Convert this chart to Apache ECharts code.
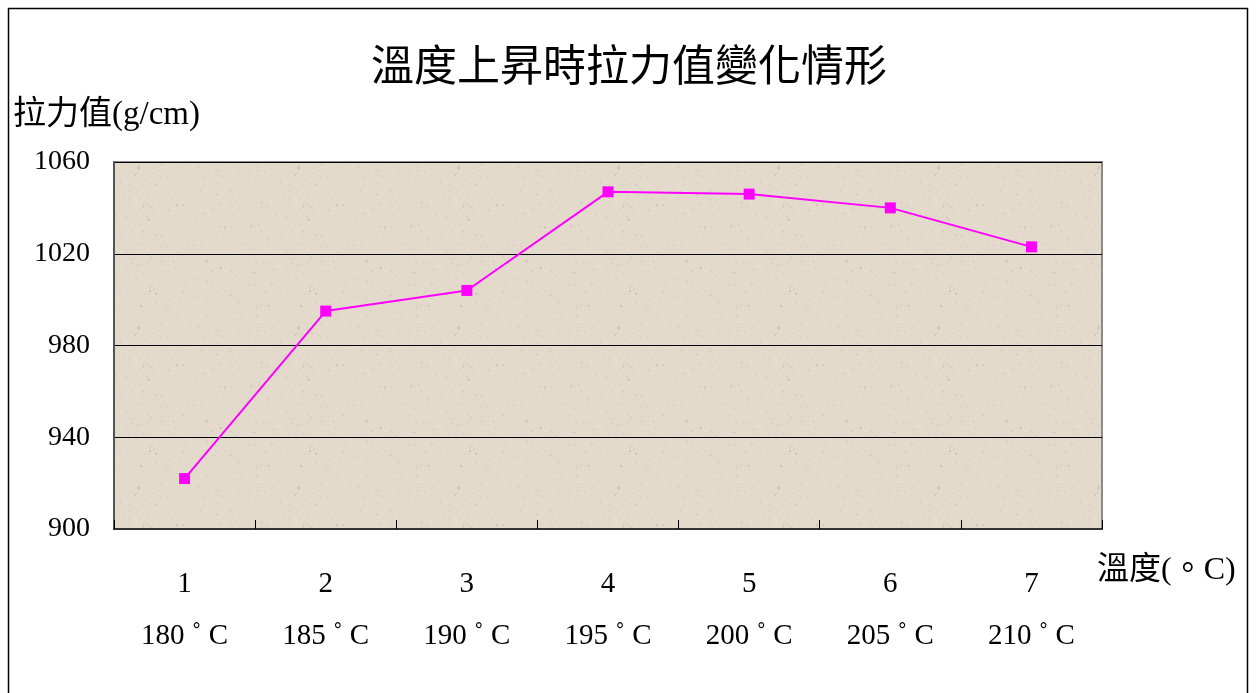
<!DOCTYPE html>
<html>
<head>
<meta charset="utf-8">
<title>溫度上昇時拉力值變化情形</title>
<script src="https://cdn.jsdelivr.net/npm/echarts@6/dist/echarts.min.js"></script>
<style>
  html, body { margin: 0; padding: 0; background: #ffffff; }
  #chart { width: 1258px; height: 693px; }
</style>
</head>
<body>
<div id="chart"></div>
<script>
// Sample index and oven temperature for each test
const sampleNo = ['1', '2', '3', '4', '5', '6', '7'];
const temperatures = ['180 ˚ C', '185 ˚ C', '190 ˚ C', '195 ˚ C', '200 ˚ C', '205 ˚ C', '210 ˚ C'];
// Measured peel strength (g/cm)
const strength = [922, 995, 1004, 1047, 1046, 1040, 1023];
// Value axis range
const yMin = 900, yMax = 1060, yStep = 40;

const serif = '"Liberation Serif", "DejaVu Serif", serif';
const cjk = '"Noto Sans CJK TC", "Noto Sans CJK SC", sans-serif';
const mixed = '"Liberation Serif", "Noto Sans CJK TC", serif';

// Speckled beige paper texture for the plotting area
function paperTexture() {
  const c = document.createElement('canvas');
  c.width = 160; c.height = 160;
  const g = c.getContext('2d');
  g.fillStyle = '#e3dacc';
  g.fillRect(0, 0, 160, 160);
  let s = 12345;
  const next = () => { s = (s * 1103515245 + 12345) & 0x7fffffff; return s / 0x7fffffff; };
  for (let i = 0; i < 900; i++) {
    const x = next() * 160, y = next() * 160;
    const v = next();
    const shade = v < 0.5 ? 'rgba(200,190,175,0.3)' : (v < 0.9 ? 'rgba(238,232,222,0.4)' : 'rgba(150,140,125,0.3)');
    g.fillStyle = shade;
    g.fillRect(x, y, 1 + (next() < 0.3 ? 1 : 0), 1 + (next() < 0.3 ? 1 : 0));
  }
  return c;
}

const chart = echarts.init(document.getElementById('chart'), null, { renderer: 'canvas' });

chart.setOption({
  backgroundColor: '#ffffff',
  animation: false,
  title: {
    text: '溫度上昇時拉力值變化情形',
    left: 'center',
    top: 38,
    textStyle: { fontFamily: cjk, fontSize: 43, fontWeight: 'normal', color: '#000' }
  },
  graphic: [
    {
      type: 'rect',
      shape: { x: 8.5, y: 8.5, width: 1239, height: 700 },
      style: { fill: 'none', stroke: '#000', lineWidth: 1.5 },
      silent: true
    },
    {
      type: 'text',
      left: 13, top: 99,
      style: { text: '拉力值(g/cm)', font: '33px ' + mixed, fill: '#000' }
    },
    {
      type: 'text',
      left: 1097, top: 555,
      style: { text: '溫度(。C)', font: '32px ' + mixed, fill: '#000' }
    }
  ],
  grid: {
    left: 114, right: 156, top: 162, bottom: 164,
    show: true,
    backgroundColor: { image: paperTexture(), repeat: 'repeat' },
    borderColor: '#8a8a8a',
    borderWidth: 2
  },
  xAxis: {
    type: 'category',
    data: sampleNo.map((n, i) => n + '\n' + temperatures[i]),
    boundaryGap: true,
    axisLine: { lineStyle: { color: '#333', width: 2 } },
    axisTick: { show: true, inside: true, length: 9, alignWithLabel: false, lineStyle: { color: '#000', width: 1 } },
    axisLabel: {
      margin: 29,
      fontFamily: serif, fontSize: 29, color: '#000', lineHeight: 52
    },
    splitLine: { show: false }
  },
  yAxis: {
    type: 'value',
    min: yMin, max: yMax, interval: yStep,
    axisLine: { show: true, lineStyle: { color: '#555', width: 2 } },
    axisTick: { show: false },
    axisLabel: { margin: 24, fontFamily: serif, fontSize: 28, color: '#000', formatter: v => String(v) },
    splitLine: { show: true, lineStyle: { color: '#000', width: 1 } }
  },
  series: [{
    type: 'line',
    data: strength,
    symbol: 'rect',
    symbolSize: 11,
    itemStyle: { color: '#ff00ff' },
    lineStyle: { color: '#ff00ff', width: 2 },
    z: 5
  }]
});
</script>
</body>
</html>
